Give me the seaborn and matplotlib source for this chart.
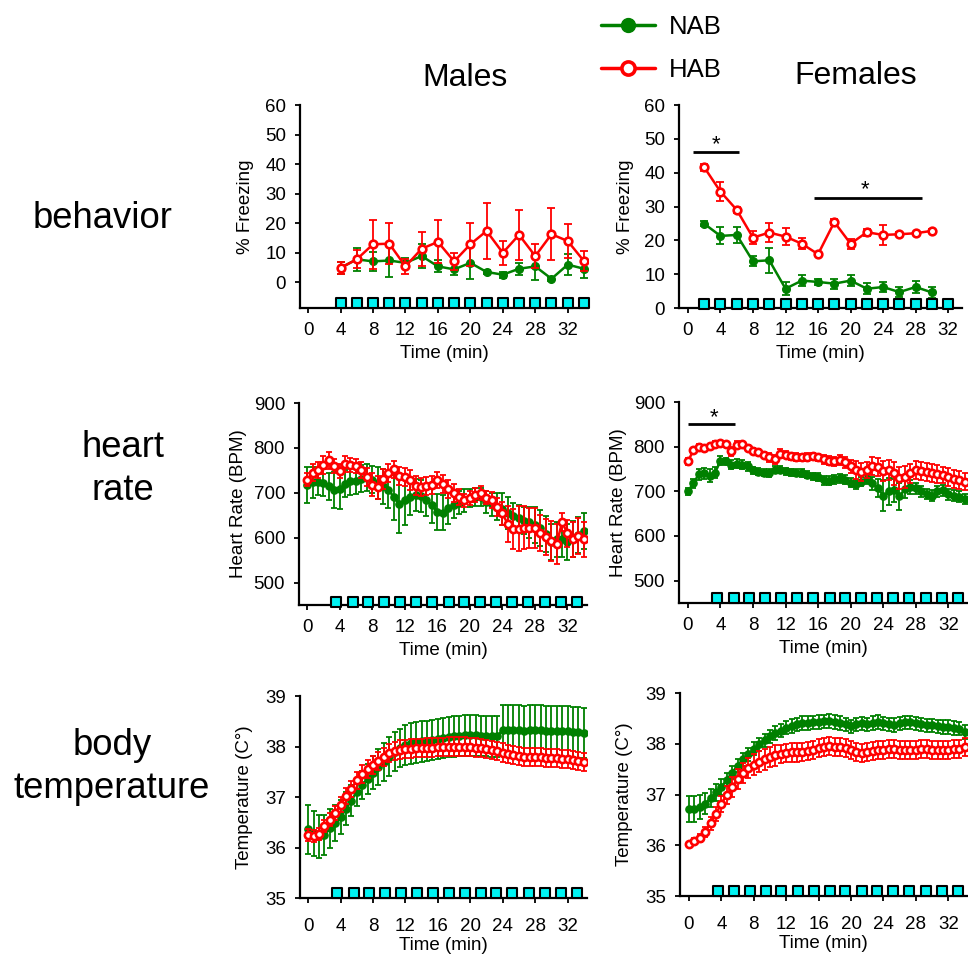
import numpy as np
import matplotlib
matplotlib.use("Agg")
import matplotlib.pyplot as plt
from matplotlib.lines import Line2D
import seaborn as sns

sns.set_style("ticks")
plt.rcParams['font.family'] = ['Liberation Sans', 'DejaVu Sans']
plt.rcParams['text.color'] = 'black'
plt.rcParams['axes.labelcolor'] = 'black'

GREEN = '#008000'
RED = '#ff0000'
CYAN = '#00f2f2'

# ---------------- DATA ----------------
# Behavior (% freezing)
beh_time_m = [4, 6, 8, 10, 12, 14, 16, 18, 20, 22, 24, 26, 28, 30, 32, 34]
nab_beh_m = [4.8, 7.7, 7.0, 7.3, 6.5, 8.8, 5.3, 4.3, 6.5, 3.4, 2.5, 4.5, 5.3, 1.1, 5.9, 4.5]
nab_beh_m_err = [2.0, 4.0, 3.3, 5.7, 1.5, 4.0, 2.0, 2.0, 5.6, 0.8, 1.0, 2.0, 4.5, 0.6, 3.6, 3.0]
hab_beh_m = [4.8, 7.7, 12.8, 13.0, 5.3, 11.3, 13.6, 7.0, 12.8, 17.3, 9.9, 16.0, 8.8, 16.2, 13.9, 7.1]
hab_beh_m_err = [2.0, 3.0, 8.3, 7.0, 2.5, 5.8, 7.3, 3.0, 7.2, 9.6, 4.0, 8.5, 4.0, 8.9, 5.7, 3.3]

beh_time_f = [2, 4, 6, 8, 10, 12, 14, 16, 18, 20, 22, 24, 26, 28, 30]
nab_beh_f = [24.9, 21.3, 21.6, 13.8, 14.1, 5.7, 8.1, 7.7, 7.2, 8.1, 5.7, 6.2, 4.7, 6.2, 4.6]
nab_beh_f_err = [0.8, 2.5, 2.3, 1.5, 3.7, 2.0, 1.6, 1.0, 1.5, 1.6, 1.6, 1.4, 1.5, 1.8, 1.7]
hab_beh_f = [41.6, 34.4, 29.0, 20.8, 22.3, 21.1, 19.0, 15.9, 25.4, 19.0, 22.4, 21.6, 21.8, 22.1, 22.8]
hab_beh_f_err = [1.0, 2.8, 1.0, 2.0, 2.8, 2.4, 1.6, 0.6, 1.0, 1.5, 1.0, 3.0, 0.6, 0.5, 0.5]

# tone (cyan square) times
tone_beh_m = [4, 6, 8, 10, 12, 14, 16, 18, 20, 22, 24, 26, 28, 30, 32, 34]
tone_beh_f = [2, 4, 6, 8, 10, 12, 14, 16, 18, 20, 22, 24, 26, 28, 30, 32]
tone_dense = [3.6, 5.6, 7.5, 9.5, 11.4, 13.4, 15.4, 17.4, 19.3, 21.3, 23.2, 25.2, 27.2, 29.2, 31.2, 33.2]

# dense recordings (every 40 s)
time_dense = np.round(np.arange(52) * 2 / 3, 2)

nab_hr_m = [718, 723, 725, 722, 714, 707, 708, 720, 726, 727,
            731, 733, 729, 722, 714, 707, 690, 675, 684, 691,
            695, 693, 684, 672, 658, 656, 665, 673, 678, 683,
            688, 691, 690, 680, 674, 669, 664, 655, 648, 643,
            638, 634, 629, 621, 608, 591, 596, 597, 591, 598,
            606, 614]
nab_hr_m_err = [40, 35, 30, 30, 30, 40, 45, 30, 30, 30,
                30, 30, 30, 35, 40, 40, 50, 65, 55, 40,
                35, 35, 35, 40, 40, 40, 35, 30, 25, 25,
                20, 20, 20, 25, 25, 30, 35, 35, 30, 30,
                30, 35, 40, 40, 40, 40, 40, 40, 40, 40,
                40, 40]
hab_hr_m = [729, 745, 751, 762, 772, 760, 748, 764, 762, 760,
            750, 735, 718, 712, 730, 745, 752, 738, 735, 728,
            716, 713, 716, 718, 728, 720, 708, 699, 690, 683,
            688, 695, 699, 689, 683, 668, 654, 630, 619, 620,
            622, 622, 622, 610, 602, 593, 586, 634, 610, 596,
            603, 596]
hab_hr_m_err = [15, 18, 18, 20, 18, 15, 15, 18, 15, 15,
                18, 20, 25, 25, 22, 20, 18, 20, 20, 22,
                22, 20, 20, 20, 18, 20, 20, 20, 18, 15,
                15, 15, 15, 15, 18, 20, 25, 40, 45, 50,
                48, 45, 45, 40, 40, 45, 45, 20, 30, 40,
                40, 40]

nab_hr_f = [700, 718, 738, 740, 735, 742, 768, 767, 760, 762,
            760, 756, 747, 744, 742, 741, 748, 748, 745, 743,
            742, 741, 737, 734, 732, 725, 724, 727, 729, 726,
            719, 716, 722, 727, 718, 708, 690, 700, 702, 689,
            705, 710, 707, 700, 694, 690, 700, 702, 693, 690,
            688, 683]
nab_hr_f_err = [8, 10, 12, 12, 15, 12, 10, 8, 10, 10,
                10, 10, 8, 8, 8, 8, 8, 8, 8, 8,
                8, 8, 8, 8, 8, 10, 10, 10, 10, 10,
                10, 10, 10, 10, 15, 20, 35, 30, 25, 30,
                20, 15, 12, 12, 12, 12, 12, 12, 12, 12,
                12, 12]
hab_hr_f = [767, 792, 800, 797, 801, 807, 808, 805, 790, 804,
            805, 798, 791, 788, 782, 776, 772, 784, 782, 778,
            777, 776, 777, 778, 776, 772, 768, 767, 770, 765,
            756, 748, 744, 748, 757, 755, 745, 748, 740, 730,
            732, 740, 748, 746, 744, 741, 738, 736, 733, 728,
            725, 722]
hab_hr_f_err = [8, 6, 5, 5, 5, 5, 5, 6, 10, 8,
                6, 6, 6, 6, 6, 10, 10, 10, 8, 8,
                8, 8, 8, 8, 8, 10, 10, 10, 12, 12,
                15, 20, 20, 18, 20, 20, 22, 22, 25, 25,
                25, 22, 20, 20, 20, 20, 20, 18, 20, 20,
                20, 20]

nab_t_m = [36.36, 36.28, 36.22, 36.25, 36.38, 36.48, 36.60, 36.77, 36.93, 37.10,
           37.24, 37.36, 37.48, 37.59, 37.69, 37.80, 37.90, 37.97, 38.03, 38.06,
           38.08, 38.10, 38.11, 38.13, 38.15, 38.17, 38.19, 38.20, 38.21, 38.22,
           38.22, 38.22, 38.21, 38.21, 38.20, 38.20, 38.33, 38.33, 38.32, 38.32,
           38.31, 38.32, 38.32, 38.32, 38.31, 38.31, 38.30, 38.30, 38.30, 38.29,
           38.28, 38.27]
nab_t_m_err = [0.49, 0.45, 0.42, 0.40, 0.38, 0.36, 0.34, 0.32, 0.30, 0.28,
               0.28, 0.30, 0.33, 0.36, 0.38, 0.38, 0.38, 0.38, 0.40, 0.40,
               0.40, 0.40, 0.40, 0.40, 0.40, 0.40, 0.40, 0.40, 0.40, 0.40,
               0.40, 0.40, 0.40, 0.40, 0.40, 0.40, 0.50, 0.50, 0.50, 0.50,
               0.50, 0.50, 0.50, 0.50, 0.50, 0.50, 0.50, 0.50, 0.50, 0.50,
               0.50, 0.50]
hab_t_m = [36.24, 36.22, 36.26, 36.42, 36.55, 36.68, 36.85, 37.02, 37.16, 37.33,
           37.45, 37.55, 37.64, 37.72, 37.80, 37.87, 37.91, 37.94, 37.95, 37.96,
           37.97, 37.97, 37.98, 37.98, 37.99, 37.99, 38.00, 38.00, 38.00, 38.00,
           37.99, 37.98, 37.97, 37.95, 37.93, 37.91, 37.88, 37.85, 37.83, 37.81,
           37.80, 37.80, 37.80, 37.79, 37.78, 37.77, 37.77, 37.76, 37.75, 37.74,
           37.72, 37.70]
hab_t_m_err = [0.12, 0.12, 0.12, 0.12, 0.13, 0.14, 0.15, 0.16, 0.16, 0.17,
               0.18, 0.18, 0.18, 0.18, 0.18, 0.18, 0.18, 0.18, 0.18, 0.18,
               0.18, 0.18, 0.18, 0.18, 0.18, 0.18, 0.18, 0.18, 0.18, 0.18,
               0.18, 0.18, 0.18, 0.18, 0.18, 0.18, 0.18, 0.18, 0.18, 0.18,
               0.18, 0.18, 0.18, 0.18, 0.18, 0.18, 0.18, 0.18, 0.18, 0.18,
               0.18, 0.18]

nab_t_f = [36.72, 36.72, 36.76, 36.82, 36.93, 37.04, 37.15, 37.29, 37.43, 37.57,
           37.69, 37.79, 37.90, 37.99, 38.07, 38.15, 38.21, 38.26, 38.32, 38.35,
           38.38, 38.41, 38.41, 38.42, 38.43, 38.44, 38.45, 38.43, 38.41, 38.38,
           38.34, 38.38, 38.40, 38.38, 38.41, 38.43, 38.40, 38.38, 38.37, 38.40,
           38.42, 38.42, 38.40, 38.38, 38.36, 38.36, 38.34, 38.33, 38.33, 38.31,
           38.30, 38.23]
nab_t_f_err = [0.26, 0.26, 0.24, 0.20, 0.18, 0.16, 0.15, 0.13, 0.13, 0.13,
               0.13, 0.13, 0.13, 0.13, 0.13, 0.13, 0.13, 0.13, 0.13, 0.13,
               0.13, 0.13, 0.13, 0.13, 0.13, 0.13, 0.13, 0.13, 0.13, 0.13,
               0.13, 0.13, 0.13, 0.13, 0.13, 0.13, 0.13, 0.13, 0.13, 0.13,
               0.13, 0.13, 0.13, 0.13, 0.13, 0.13, 0.13, 0.13, 0.13, 0.13,
               0.13, 0.13]
hab_t_f = [36.02, 36.08, 36.14, 36.26, 36.43, 36.62, 36.82, 36.99, 37.15, 37.31,
           37.43, 37.52, 37.59, 37.65, 37.69, 37.74, 37.77, 37.80, 37.82, 37.83,
           37.83, 37.84, 37.86, 37.88, 37.92, 37.94, 37.95, 37.94, 37.93, 37.91,
           37.88, 37.84, 37.82, 37.84, 37.86, 37.88, 37.88, 37.89, 37.90, 37.88,
           37.87, 37.87, 37.88, 37.89, 37.90, 37.88, 37.87, 37.87, 37.88, 37.89,
           37.90, 37.94]
hab_t_f_err = [0.05, 0.06, 0.08, 0.10, 0.12, 0.14, 0.16, 0.18, 0.20, 0.20,
               0.20, 0.20, 0.20, 0.20, 0.20, 0.20, 0.20, 0.18, 0.18, 0.18,
               0.18, 0.18, 0.18, 0.18, 0.18, 0.18, 0.18, 0.18, 0.18, 0.18,
               0.18, 0.18, 0.18, 0.18, 0.18, 0.18, 0.18, 0.18, 0.18, 0.18,
               0.18, 0.18, 0.18, 0.18, 0.18, 0.18, 0.18, 0.18, 0.18, 0.18,
               0.18, 0.18]

# significance annotations: (x_start, x_end, y_bar, x_star, y_star)
sig_beh_f = [(0.65, 6.3, 46.0, 3.5, 46.6), (15.5, 28.8, 32.6, 21.8, 33.2)]
sig_hr_f = [(0.0, 5.8, 850, 3.2, 852)]

xticks = [0, 4, 8, 12, 16, 20, 24, 28, 32]
row_titles = ["behavior", "heart", "rate", "body", "temperature"]
col_titles = ["Males", "Females"]
legend_labels = ["NAB", "HAB"]

# ---------------- FIGURE ----------------
W, H = 968, 955
fig = plt.figure(figsize=(W / 100, H / 100), dpi=100)


def px_axes(l, r, t, b):
    return fig.add_axes([l / W, 1 - b / H, (r - l) / W, (b - t) / H])


FS = 13.5


def panel(ax, tn, nab, nab_err, th, hab, hab_err, sq_x, sq_y, xlim, ylim, yticks,
          ylabel, ylab_px, x0px, width_px, xpad, xlabpad, dense):
    ms = 5.2 if dense else 5.5
    cap = 2.5 if dense else 3
    ax.errorbar(tn, nab, yerr=nab_err, fmt='none', ecolor=GREEN, elinewidth=1.3,
                capsize=cap, capthick=1.3, zorder=2)
    sns.lineplot(x=tn, y=nab, ax=ax, color=GREEN, lw=1.8, marker='o', markersize=ms,
                 markerfacecolor=GREEN, markeredgecolor=GREEN, markeredgewidth=1,
                 zorder=2.5)
    ax.errorbar(th, hab, yerr=hab_err, fmt='none', ecolor=RED, elinewidth=1.3,
                capsize=cap, capthick=1.3, zorder=3)
    sns.lineplot(x=th, y=hab, ax=ax, color=RED, lw=1.8, marker='o', markersize=ms,
                 markerfacecolor='white', markeredgecolor=RED, markeredgewidth=1.9,
                 zorder=3.5)
    sns.scatterplot(x=sq_x, y=sq_y, ax=ax, marker='s', s=46, color=CYAN,
                    edgecolor='black', linewidth=1.5, zorder=4, clip_on=False)
    ax.set_xlim(*xlim)
    ax.set_ylim(*ylim)
    ax.set_xticks(xticks)
    ax.set_yticks(yticks)
    sns.despine(ax=ax)
    for s in ['left', 'bottom']:
        ax.spines[s].set_linewidth(1.6)
        ax.spines[s].set_color('black')
    ax.tick_params(axis='both', direction='out', length=3.5, width=1.3,
                   labelsize=FS, colors='black')
    ax.tick_params(axis='y', pad=6.5)
    ax.tick_params(axis='x', pad=xpad)
    ax.set_xlabel('Time (min)', fontsize=FS, labelpad=xlabpad)
    ax.set_ylabel(ylabel, fontsize=FS)
    ax.yaxis.set_label_coords((ylab_px - x0px) / width_px, 0.5)


# Behavior
ax = px_axes(300, 588, 105, 308)
panel(ax, beh_time_m, nab_beh_m, nab_beh_m_err, beh_time_m, hab_beh_m, hab_beh_m_err,
      tone_beh_m, [-7.1] * len(tone_beh_m), (-1.0, 34.5), (-8.8, 60), range(0, 61, 10),
      '% Freezing', 254, 300, 288, 6.5, 4.5, False)

ax = px_axes(679, 962, 105, 308)
panel(ax, beh_time_f, nab_beh_f, nab_beh_f_err, beh_time_f, hab_beh_f, hab_beh_f_err,
      tone_beh_f, [1.2] * len(tone_beh_f), (-1.1, 33.7), (0, 60), range(0, 61, 10),
      '% Freezing', 634, 679, 283, 6.5, 4.5, False)
for x0, x1, yb, xs, ys in sig_beh_f:
    ax.plot([x0, x1], [yb, yb], color='black', lw=2, solid_capstyle='butt')
    ax.text(xs, ys, '*', ha='center', va='baseline', fontsize=16, color='black')

# Heart rate
ax = px_axes(299, 587, 403, 605)
panel(ax, time_dense, nab_hr_m, nab_hr_m_err, time_dense, hab_hr_m, hab_hr_m_err,
      tone_dense, [457] * len(tone_dense), (-1.0, 34.4), (450, 900), range(500, 901, 100),
      'Heart Rate (BPM)', 247, 299, 288, 6.5, 4.5, True)

ax = px_axes(679, 967, 402, 603)
panel(ax, time_dense, nab_hr_f, nab_hr_f_err, time_dense, hab_hr_f, hab_hr_f_err,
      tone_dense, [461] * len(tone_dense), (-1.1, 34.3), (450, 900), range(500, 901, 100),
      'Heart Rate (BPM)', 627, 679, 288, 6.5, 4.5, True)
for x0, x1, yb, xs, ys in sig_hr_f:
    ax.plot([x0, x1], [yb, yb], color='black', lw=2, solid_capstyle='butt')
    ax.text(xs, ys, '*', ha='center', va='baseline', fontsize=16, color='black')

# Temperature
ax = px_axes(300, 587, 696, 898)
panel(ax, time_dense, nab_t_m, nab_t_m_err, time_dense, hab_t_m, hab_t_m_err,
      tone_dense, [35.1] * len(tone_dense), (-1.0, 34.4), (35, 39), range(35, 40),
      'Temperature (C°)', 253, 300, 287, 11, 1, True)

ax = px_axes(680, 967, 693, 896)
panel(ax, time_dense, nab_t_f, nab_t_f_err, time_dense, hab_t_f, hab_t_f_err,
      tone_dense, [35.1] * len(tone_dense), (-1.1, 34.3), (35, 39), range(35, 40),
      'Temperature (C°)', 633, 680, 287, 11, 1, True)

# Titles
RFS = 26.3
fig.text(102.5 / W, 1 - 228 / H, row_titles[0], ha='center', va='baseline', fontsize=RFS, color='black')
fig.text(123 / W, 1 - 456.5 / H, row_titles[1], ha='center', va='baseline', fontsize=RFS, color='black')
fig.text(122.5 / W, 1 - 500 / H, row_titles[2], ha='center', va='baseline', fontsize=RFS, color='black')
fig.text(111.7 / W, 1 - 755 / H, row_titles[3], ha='center', va='baseline', fontsize=RFS, color='black')
fig.text(111.7 / W, 1 - 798 / H, row_titles[4], ha='center', va='baseline', fontsize=RFS, color='black')
fig.text(465 / W, 1 - 86.5 / H, col_titles[0], ha='center', va='baseline', fontsize=23, color='black')
fig.text(856 / W, 1 - 83.5 / H, col_titles[1], ha='center', va='baseline', fontsize=23, color='black')

handles = [
    Line2D([], [], color=GREEN, lw=2.5, marker='o', markersize=10,
           markerfacecolor=GREEN, markeredgecolor=GREEN),
    Line2D([], [], color=RED, lw=2.5, marker='o', markersize=9.5,
           markerfacecolor='white', markeredgecolor=RED, markeredgewidth=2.6),
]
leg = fig.legend(handles, legend_labels, loc='upper left', bbox_to_anchor=(601 / W, 1 - 15 / H),
                 frameon=False, fontsize=18.5, handlelength=2.1, handletextpad=0.55,
                 labelspacing=0.73, borderpad=0, borderaxespad=0)
for txt in leg.get_texts():
    txt.set_color('black')

fig.savefig('out.png', dpi=100)
